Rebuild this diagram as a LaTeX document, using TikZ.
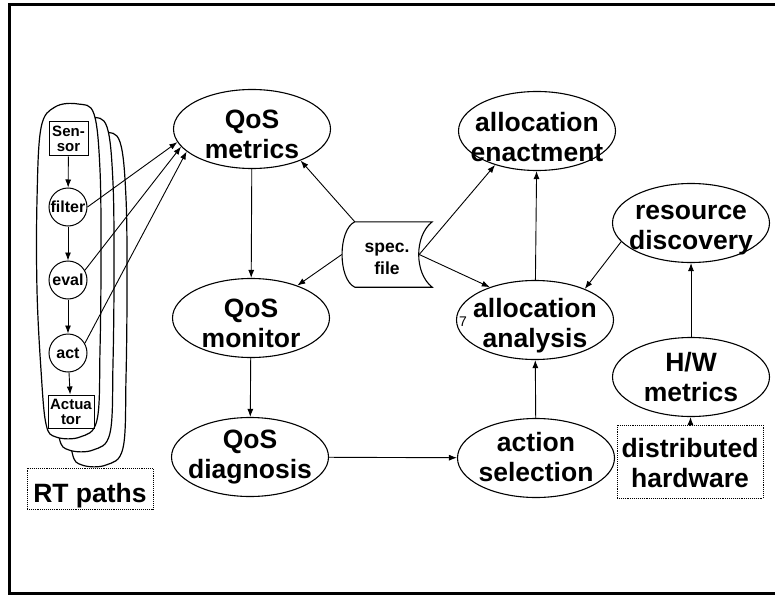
\documentclass[tikz,border=0pt]{standalone}
\usepackage{fontspec}
\setmainfont{Liberation Sans}
\usetikzlibrary{shapes,arrows,positioning,calc,arrows.meta}

\begin{document}
\begin{tikzpicture}[
    x=1pt, y=-1pt,
    proc/.style={ellipse, draw, line width=1.1pt, minimum width=157pt, minimum height=79pt, inner sep=0pt},
    ptxt/.style={align=center, inner sep=0pt, font=\bfseries\fontsize{26.5}{30}\selectfont,
        execute at begin node=\strut, execute at end node=\strut},
    hwbox/.style={draw, densely dotted, line width=0.9pt, inner sep=0pt},
    stage/.style={circle, draw, line width=1pt, minimum size=38pt, inner sep=0pt, font=\bfseries\fontsize{16}{17}\selectfont},
    io/.style={draw, line width=1pt, inner sep=0pt, align=center, font=\bfseries\fontsize{15}{15}\selectfont},
    blob/.style={draw, fill=white, line width=1.2pt},
    arrow/.style={-{Latex[length=8pt, width=6pt]}, line width=0.9pt}
]
    \useasboundingbox (0,0) rectangle (775,596);
    \draw[line width=3pt] (775,5) -- (9,5) -- (9,593) -- (775,593);

    % RT path outlines, back to front
    \foreach \dx/\dy in {26/28, 13/13, 0/0}
        \draw[blob, shift={(\dx,\dy)}] plot[smooth cycle, tension=0.6] coordinates
            {(55,107) (78,104) (94,114) (100,170) (101,260) (100,350) (97,420) (80,437) (56,437) (46,424) (41,370) (37,290) (37,200) (41,128)};

    \node[io, minimum width=39pt, minimum height=34pt] (sens) at (68.5,139) {Sen-\\sor};
    \node[stage] (filt) at (68,207) {filter};
    \node[stage] (evl) at (68,280) {eval};
    \node[stage] (actn) at (68,353) {act};
    \node[io, minimum width=46pt, minimum height=33pt] (actu) at (71,411.5) {Actua\\tor};

    \node[hwbox, minimum width=126pt, minimum height=41pt, label={[ptxt, yshift=-8pt]center:RT paths}] (rtp) at (90,488.5) {};

    \node[proc, label={[ptxt, yshift=-10pt]center:QoS\\metrics}] (qmet) at (252,129) {};
    \node[proc, label={[ptxt, yshift=-10pt]center:QoS\\monitor}] (qmon) at (251,318) {};
    \node[proc, label={[ptxt, yshift=-2pt]center:QoS\\diagnosis}] (qdiag) at (250,457) {};
    \node[proc, label={[ptxt, yshift=-10pt]center:allocation\\enactment}] (aenact) at (537,131) {};
    \node[proc, label={[ptxt, yshift=-7pt]center:allocation\\analysis}] (aana) at (535,320) {};
    \node[proc, label={[ptxt, yshift=-3pt]center:action\\selection}] (asel) at (536,458) {};
    \node[proc, label={[ptxt, yshift=-9pt]center:resource\\discovery}] (rdisc) at (691,223) {};
    \node[proc, label={[ptxt, yshift=-4pt]center:H/W\\metrics}] (hwmet) at (691,377) {};
    \node[hwbox, minimum width=146pt, minimum height=73pt, label={[ptxt, yshift=-6pt]center:distributed\\hardware}] (dhw) at (690,461.5) {};

    \node[font=\fontsize{14}{14}\selectfont, inner sep=0pt] (mark) at (463,322) {7};

    % spec. file
    \node[minimum width=90pt, minimum height=65pt, inner sep=0pt,
        label={[align=center, inner sep=0pt, font=\bfseries\fontsize{17.5}{22}\selectfont, yshift=-4pt]center:spec.\\file}] (spec) at (387,254.5) {};
    \coordinate (spec-tl) at ([xshift=13pt]spec.north west);
    \coordinate (spec-bl) at ([xshift=13pt]spec.south west);
    \coordinate (spec-in) at ([xshift=-13pt]spec.east);
    \draw[line width=1.1pt] (spec-tl) -- (spec.north east)
        .. controls +(-18,14) and +(-18,-14) .. (spec.south east) -- (spec-bl)
        .. controls +(-17,-8) and +(-17,8) .. (spec-tl);

    \draw[arrow] (sens) -- (filt);
    \draw[arrow] (filt) -- (evl);
    \draw[arrow] (evl) -- (actn);
    \draw[arrow] (actn) -- (actu);
    \draw[arrow] (filt.east) -- (qmet.190);
    \draw[arrow] (evl.30) -- (qmet.194);
    \draw[arrow] (actn.30) -- (qmet.199);

    \draw[arrow] (spec-tl) -- (qmet.-33);
    \draw[arrow] (spec.west) -- (qmon.35);
    \draw[arrow] (spec-in) -- (aenact.-141);
    \draw[arrow] (spec-in) -- (aana.144);

    \draw[arrow] (qmet) -- (qmon);
    \draw[arrow] (qmon) -- (qdiag);
    \draw[arrow] (qdiag) -- (asel);
    \draw[arrow] (asel) -- (aana);
    \draw[arrow] (aana) -- (aenact);
    \draw[arrow] (rdisc.195) -- (aana.32);
    \draw[arrow] (hwmet) -- (rdisc);
    \draw[arrow] (dhw) -- (hwmet);
\end{tikzpicture}
\end{document}
